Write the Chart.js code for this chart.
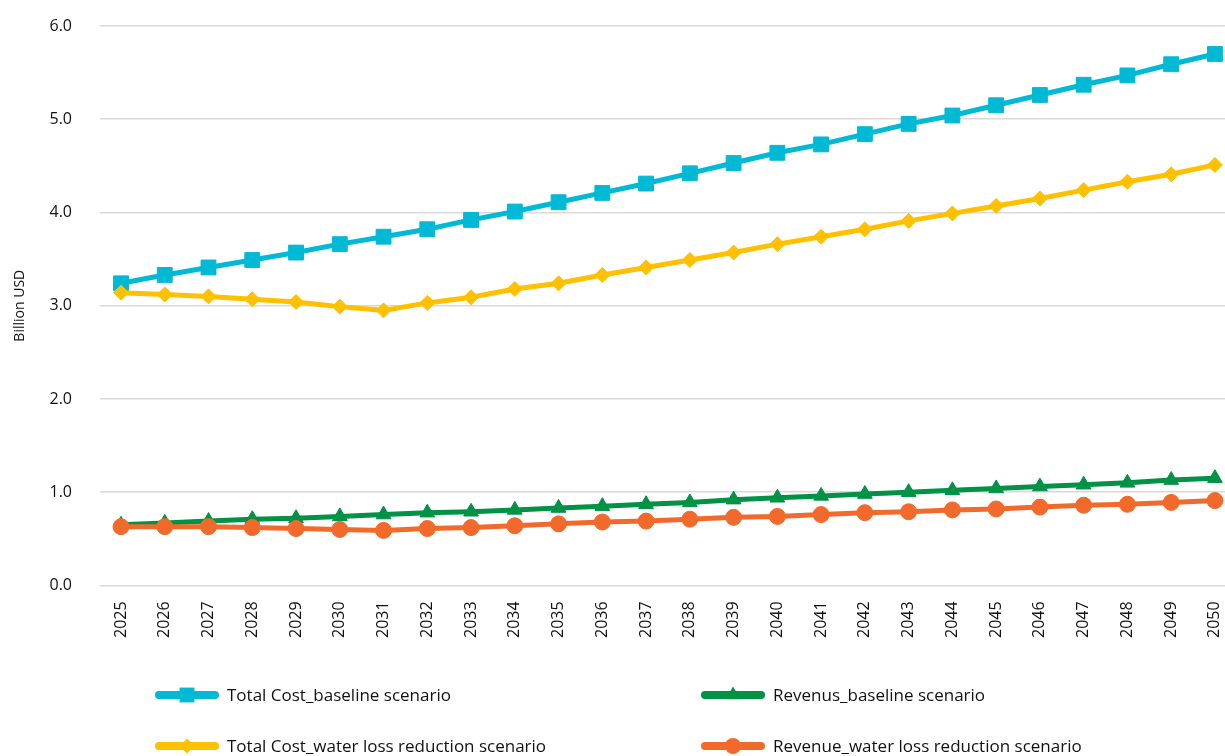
<!DOCTYPE html>
<html>
<head>
<meta charset="utf-8">
<script src="https://cdn.jsdelivr.net/npm/chart.js@4.4.1/dist/chart.umd.min.js"></script>
<style>
  html, body { margin: 0; padding: 0; background: #fff; }
  #wrap { width: 1225px; height: 756px; }
</style>
</head>
<body>
<div id="wrap"><canvas id="costChart" width="1225" height="756"></canvas></div>
<script>
const years = [2025, 2026, 2027, 2028, 2029, 2030, 2031, 2032, 2033, 2034, 2035, 2036, 2037,
               2038, 2039, 2040, 2041, 2042, 2043, 2044, 2045, 2046, 2047, 2048, 2049, 2050];

const costBaseline = [3.24, 3.33, 3.41, 3.49, 3.57, 3.66, 3.74, 3.82, 3.92, 4.01, 4.11, 4.21, 4.31,
                      4.42, 4.53, 4.64, 4.73, 4.84, 4.95, 5.04, 5.15, 5.26, 5.37, 5.47, 5.59, 5.70];
const revenueBaseline = [0.65, 0.67, 0.69, 0.71, 0.72, 0.74, 0.76, 0.78, 0.79, 0.81, 0.83, 0.85, 0.87,
                         0.89, 0.92, 0.94, 0.96, 0.98, 1.00, 1.02, 1.04, 1.06, 1.08, 1.10, 1.13, 1.15];
const costReduction = [3.14, 3.12, 3.10, 3.07, 3.04, 2.99, 2.95, 3.03, 3.09, 3.18, 3.24, 3.33, 3.41,
                       3.49, 3.57, 3.66, 3.74, 3.82, 3.91, 3.99, 4.07, 4.15, 4.24, 4.33, 4.41, 4.51];
const revenueReduction = [0.63, 0.63, 0.63, 0.62, 0.61, 0.60, 0.59, 0.61, 0.62, 0.64, 0.66, 0.68, 0.69,
                          0.71, 0.73, 0.74, 0.76, 0.78, 0.79, 0.81, 0.82, 0.84, 0.86, 0.87, 0.89, 0.91];

const seriesNames = [
    "Total Cost_baseline scenario",
    "Revenus_baseline scenario",
    "Total Cost_water loss reduction scenario",
    "Revenue_water loss reduction scenario"
];
const yTicks = [0, 1, 2, 3, 4, 5, 6];

const FONT = "'Open Sans', 'Noto Sans', sans-serif";

function toPoints(values) {
    return values.map((v, i) => ({ x: years[i], y: v }));
}

function makeSet(label, values, color, style, radius, order) {
    return {
        label: label,
        data: toPoints(values),
        borderColor: color,
        backgroundColor: color,
        pointBackgroundColor: color,
        pointBorderColor: color,
        borderWidth: 5,
        pointStyle: style,
        pointRadius: radius,
        pointHoverRadius: radius,
        pointBorderWidth: 1,
        tension: 0,
        clip: false,
        order: order
    };
}

// ================= LEGEND (2 cot x 2 hang) =================
const legendGrid = {
    id: 'legendGrid',
    afterDraw(chart) {
        const ctx = chart.ctx;
        const cols = [156, 702];
        const rows = [695, 746];
        ctx.save();
        chart.data.datasets.forEach((ds, i) => {
            const x = cols[i % 2];
            const y = rows[Math.floor(i / 2)];
            ctx.strokeStyle = ds.borderColor;
            ctx.lineWidth = 8;
            ctx.lineCap = 'round';
            ctx.beginPath();
            ctx.moveTo(x + 3, y);
            ctx.lineTo(x + 59, y);
            ctx.stroke();
            ctx.fillStyle = ds.backgroundColor;
            Chart.helpers.drawPoint(ctx, {
                pointStyle: ds.pointStyle,
                radius: ds.pointRadius,
                borderWidth: 0,
                rotation: 0
            }, x + 31, y);
            ctx.fillStyle = '#111';
            ctx.font = "17px " + FONT;
            ctx.textBaseline = 'middle';
            ctx.textAlign = 'left';
            ctx.fillText(ds.label, x + 71, y + 1);
        });
        ctx.restore();
    }
};

const ctx = document.getElementById('costChart').getContext('2d');

const chart = new Chart(ctx, {
    type: 'line',
    data: {
        datasets: [
            makeSet(seriesNames[0], costBaseline, '#00B9D5', 'rect', 10.5, 4),
            makeSet(seriesNames[1], revenueBaseline, '#009245', 'triangle', 8.5, 3),
            makeSet(seriesNames[2], costReduction, '#FFC000', 'rectRot', 7.5, 2),
            makeSet(seriesNames[3], revenueReduction, '#F26A2B', 'circle', 8, 1)
        ]
    },
    options: {
        responsive: false,
        animation: false,
        layout: { autoPadding: false, padding: { top: 26, right: 0, bottom: 110, left: 0 } },
        plugins: {
            legend: { display: false },
            tooltip: { enabled: false }
        },
        scales: {
            x: {
                type: 'linear',
                min: 2024.52,
                max: 2050.23,
                grid: { display: false },
                border: { display: false },
                afterBuildTicks: (scale) => {
                    scale.ticks = years.map(y => ({ value: y }));
                },
                afterFit: (scale) => {
                    scale.paddingLeft = 0;
                    scale.paddingRight = 0;
                },
                ticks: {
                    includeBounds: false,
                    stepSize: 1,
                    autoSkip: false,
                    minRotation: 90,
                    maxRotation: 90,
                    padding: 8,
                    color: '#111',
                    font: { family: FONT, size: 16 },
                    callback: (v) => String(v)
                }
            },
            y: {
                min: 0,
                max: 6,
                afterFit: (scale) => {
                    scale.width = 100;
                    scale.paddingTop = 0;
                    scale.paddingBottom = 0;
                },
                afterBuildTicks: (scale) => {
                    scale.ticks = yTicks.map(v => ({ value: v }));
                },
                grid: { color: '#d9d9d9', lineWidth: 1.5, drawTicks: false },
                border: { display: false },
                title: {
                    display: true,
                    text: 'Billion USD',
                    color: '#111',
                    font: { family: FONT, size: 14 },
                    padding: { top: 12, bottom: 0 }
                },
                ticks: {
                    padding: 28,
                    color: '#111',
                    font: { family: FONT, size: 16 },
                    callback: (v) => v.toFixed(1)
                }
            }
        }
    },
    plugins: [legendGrid]
});
</script>
</body>
</html>
